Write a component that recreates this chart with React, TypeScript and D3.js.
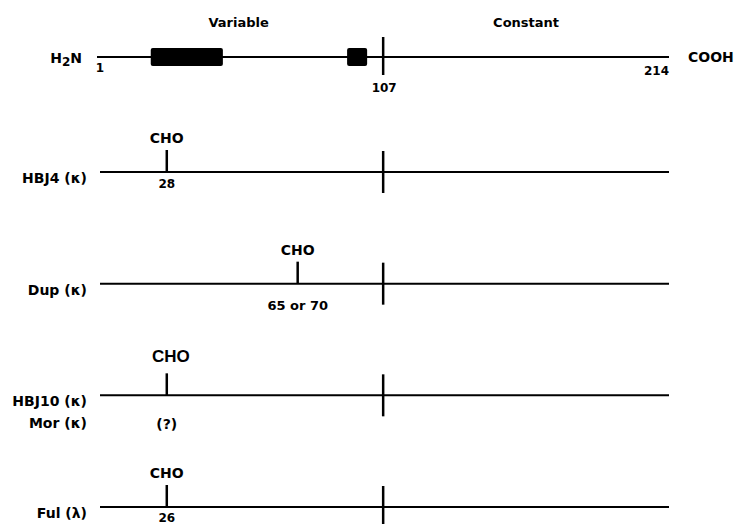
import React from "react";
import * as d3 from "d3";

// ---- data ----
const chainStart = 1;
const domainBoundary = 107;
const chainEnd = 214;
const regionLabels = ["Variable", "Constant"];
const terminusLabels = ["H2N", "COOH"];
const hypervariableStart = [20, 93.5];
const hypervariableEnd = [47, 101];
const chainNames = [["HBJ4 (κ)"], ["Dup (κ)"], ["HBJ10 (κ)", "Mor (κ)"], ["Ful (λ)"]];
const siteDrawnResidue = [26, 75, 26, 26];
const siteLabels = ["28", "65 or 70", "(?)", "26"];
const carbohydrateLabel = "CHO";

const W = 738;
const H = 524;
const FONT = "'DejaVu Sans', Arial, sans-serif";

export default function App() {
  const x = d3.scaleLinear().domain([chainStart, chainEnd]).range([100, 669]);
  const y = d3.scaleLinear().domain([0, 1, 4]).range([57, 172, 507]);
  const xb = x(domainBoundary);

  const y0 = y(0);
  const labelOffset = [16, 26, 34, 15];
  return (
    <svg
      width={W}
      height={H}
      viewBox={`0 0 ${W} ${H}`}
      style={{ position: "absolute", left: 0, top: 0, background: "#fff" }}
      fontFamily={FONT}
      fontWeight="bold"
      fill="#000"
    >
      {/* region headers */}
      <text x={(x(chainStart) + xb) / 2 - 3} y={27} fontSize={13} textAnchor="middle">
        {regionLabels[0]}
      </text>
      <text x={(xb + x(chainEnd)) / 2} y={27} fontSize={13} textAnchor="middle">
        {regionLabels[1]}
      </text>

      {/* top schematic chain */}
      <line x1={x(chainStart) - 3} x2={x(chainEnd)} y1={y0} y2={y0} stroke="#000" strokeWidth={2} />
      {hypervariableStart.map((s, i) => (
        <rect
          key={i}
          x={x(s)}
          y={y0 - 9}
          width={x(hypervariableEnd[i]) - x(s)}
          height={18}
          rx={2}
          fill="#000"
        />
      ))}
      <line x1={xb} x2={xb} y1={y0 - 20} y2={y0 + 18} stroke="#000" strokeWidth={2.5} />
      <text x={82} y={y0 + 6} fontSize={14} textAnchor="end">
        H<tspan fontSize={12} dy={3}>2</tspan>
        <tspan dy={-3}>N</tspan>
      </text>
      <text x={x(chainEnd) + 19} y={y0 + 5} fontSize={14}>
        {terminusLabels[1]}
      </text>
      <text x={x(chainStart)} y={y0 + 15} fontSize={12} textAnchor="middle">
        {chainStart}
      </text>
      <text x={x(chainEnd)} y={y0 + 18} fontSize={12} textAnchor="end">
        {chainEnd}
      </text>
      <text x={xb + 1} y={y0 + 35} fontSize={12} textAnchor="middle">
        {domainBoundary}
      </text>

      {/* glycosylated chains */}
      {chainNames.map((names, i) => {
        const yy = y(i + 1);
        const sx = x(siteDrawnResidue[i]);
        const big = i === 2;
        return (
          <g key={i}>
            <line x1={x(chainStart)} x2={x(chainEnd)} y1={yy} y2={yy} stroke="#000" strokeWidth={2} />
            <line x1={xb} x2={xb} y1={yy - 21} y2={yy + 21} stroke="#000" strokeWidth={2.5} />
            <line x1={sx} x2={sx} y1={yy - 22} y2={yy} stroke="#000" strokeWidth={2.5} />
            <text
              x={sx + (big ? 4 : 0)}
              y={yy - (big ? 33 : 29)}
              fontSize={big ? 17 : 14}
              fontFamily={big ? "'Liberation Sans', Arial, sans-serif" : FONT}
              textAnchor="middle"
            >
              {carbohydrateLabel}
            </text>
            <text
              x={sx}
              y={yy + labelOffset[i]}
              fontSize={i === 1 ? 13 : big ? 14 : 12}
              textAnchor="middle"
            >
              {siteLabels[i]}
            </text>
            {names.map((n, j) => (
              <text key={j} x={87} y={yy + 11 + j * 22} fontSize={14} textAnchor="end">
                {n}
              </text>
            ))}
          </g>
        );
      })}
    </svg>
  );
}
